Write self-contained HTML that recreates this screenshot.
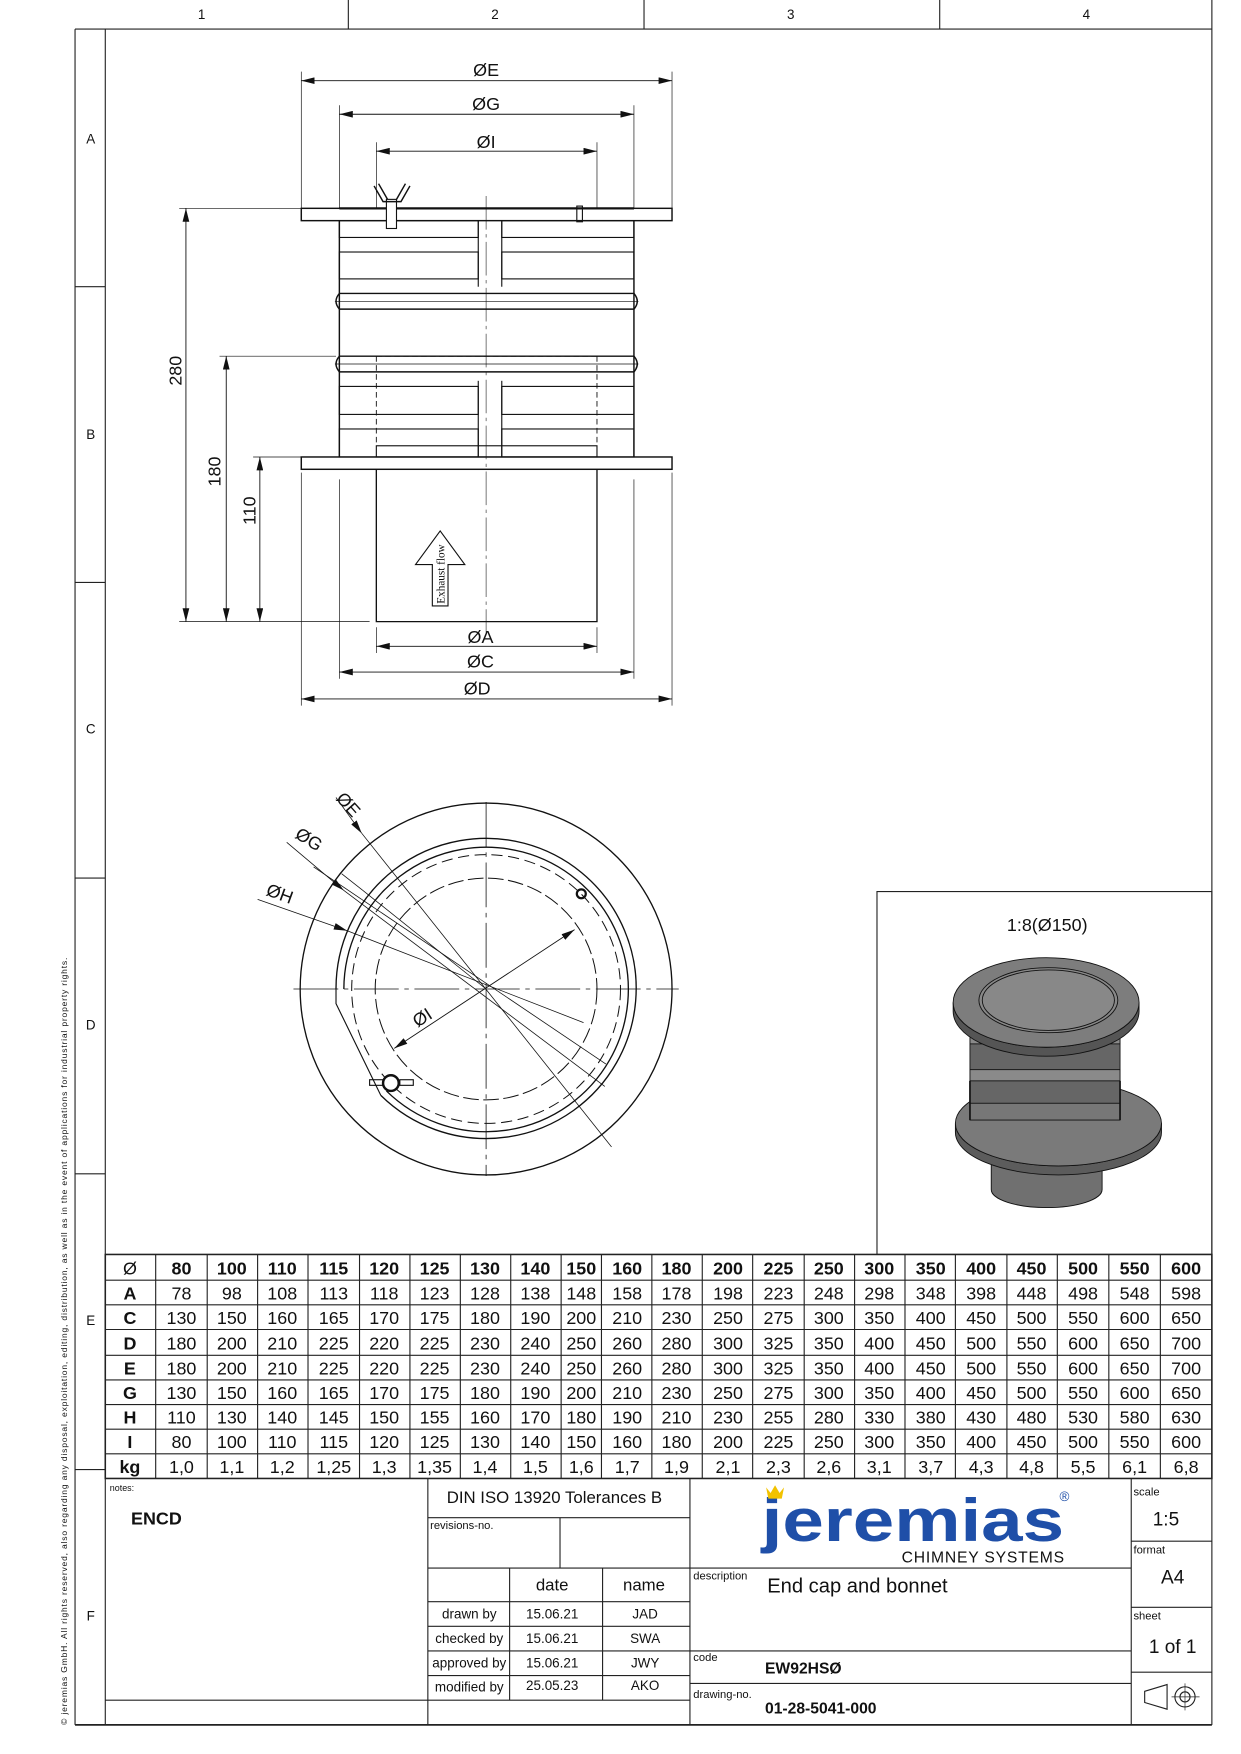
<!DOCTYPE html>
<html><head><meta charset="utf-8"><style>
html,body{margin:0;padding:0;background:#fff}
svg{display:block}
text{font-family:"Liberation Sans",sans-serif;fill:#111}
</style></head><body>
<svg width="1241" height="1754" viewBox="0 0 1108 1566" preserveAspectRatio="none" xmlns="http://www.w3.org/2000/svg">
<defs>
<marker id="ar" markerWidth="12" markerHeight="6" refX="12" refY="3" orient="auto" markerUnits="userSpaceOnUse"><path d="M0,0 L12,3 L0,6 z" fill="#111"/></marker>
<marker id="al" markerWidth="12" markerHeight="6" refX="0" refY="3" orient="auto" markerUnits="userSpaceOnUse"><path d="M12,0 L0,3 L12,6 z" fill="#111"/></marker>
</defs>
<g stroke="#222" fill="none" stroke-width="1">
<line x1="67" y1="26" x2="1082" y2="26"/>
<line x1="1082" y1="0" x2="1082" y2="1540"/>
<line x1="311" y1="0" x2="311" y2="26"/><line x1="575" y1="0" x2="575" y2="26"/><line x1="839" y1="0" x2="839" y2="26"/>
<line x1="67" y1="26" x2="67" y2="1540"/>
<line x1="94" y1="26" x2="94" y2="1540"/>
<line x1="67" y1="1540" x2="1082" y2="1540" stroke-width="1.5"/>
<line x1="67" y1="256" x2="94" y2="256"/><line x1="67" y1="520" x2="94" y2="520"/><line x1="67" y1="784" x2="94" y2="784"/><line x1="67" y1="1048" x2="94" y2="1048"/><line x1="67" y1="1312" x2="94" y2="1312"/>
</g>
<g font-size="12" text-anchor="middle">
<text x="180" y="17">1</text><text x="442" y="17">2</text><text x="706" y="17">3</text><text x="970" y="17">4</text>
<text x="81" y="128">A</text><text x="81" y="392">B</text><text x="81" y="655">C</text><text x="81" y="919">D</text><text x="81" y="1183">E</text><text x="81" y="1447">F</text>
</g>
<text transform="translate(60,1540) rotate(-90)" font-size="7.6" textLength="685">© jeremias GmbH. All rights reserved, also regarding any disposal, exploitation, editing, distribution, as well as in the event of applications for industrial property rights.</text>

<g stroke="#111" fill="none" stroke-width="1">
<line x1="269" y1="64" x2="269" y2="186" stroke-width="0.6"/><line x1="600" y1="64" x2="600" y2="186" stroke-width="0.6"/>
<line x1="303" y1="94" x2="303" y2="186" stroke-width="0.6"/><line x1="566" y1="94" x2="566" y2="186" stroke-width="0.6"/>
<line x1="336" y1="127" x2="336" y2="186" stroke-width="0.6"/><line x1="533" y1="127" x2="533" y2="186" stroke-width="0.6"/>
<line x1="269" y1="72" x2="600" y2="72" marker-start="url(#al)" marker-end="url(#ar)" stroke-width="0.8"/>
<line x1="303" y1="102" x2="566" y2="102" marker-start="url(#al)" marker-end="url(#ar)" stroke-width="0.8"/>
<line x1="336" y1="135" x2="533" y2="135" marker-start="url(#al)" marker-end="url(#ar)" stroke-width="0.8"/>
<rect x="269" y="186" width="331" height="11" stroke-width="1.3"/>
<line x1="303" y1="186" x2="566" y2="186" stroke-width="2"/>
<line x1="303" y1="197" x2="303" y2="408" stroke-width="1.3"/><line x1="566" y1="197" x2="566" y2="408" stroke-width="1.3"/>
<rect x="303" y="197" width="124" height="15"/><rect x="448" y="197" width="118" height="15"/>
<rect x="303" y="225" width="124" height="24"/><rect x="448" y="225" width="118" height="24"/>
<rect x="303" y="345" width="124" height="25"/><rect x="448" y="345" width="118" height="25"/>
<rect x="303" y="383" width="124" height="25"/><rect x="448" y="383" width="118" height="25"/>
<line x1="427" y1="197" x2="427" y2="256"/><line x1="448" y1="197" x2="448" y2="256"/>
<line x1="427" y1="340" x2="427" y2="408"/><line x1="448" y1="340" x2="448" y2="408"/>
<path d="M303,262 Q297,269 303,276 L566,276 Q572,269 566,262 Z" stroke-width="1.3"/>
<line x1="299" y1="269" x2="570" y2="269" stroke-width="0.6"/>
<path d="M303,318 Q297,325 303,332 L566,332 Q572,325 566,318 Z" stroke-width="1.3"/>
<line x1="299" y1="325" x2="570" y2="325" stroke-width="0.6"/>
<rect x="269" y="408" width="331" height="11" stroke-width="1.3"/>
<rect x="336" y="398" width="197" height="10"/>
<path d="M336,318 L533,318 M336,318 L336,398 M533,318 L533,398" stroke-dasharray="5,3" stroke-width="0.8"/>
<path d="M336,419 L336,555 L533,555 L533,419" stroke-width="1.2"/>
<line x1="434" y1="175" x2="434" y2="565" stroke-width="0.5" stroke-dasharray="30,4,3,4"/>
<rect x="345" y="178" width="9" height="26" fill="#fff"/>
<path d="M338,164 L346,178 M362,164 L354,178 M334,166 L342,180 L358,180 L366,166" stroke-width="1.3"/>
<rect x="515" y="184" width="5" height="14"/>
<line x1="269" y1="422" x2="269" y2="630" stroke-width="0.6"/><line x1="600" y1="422" x2="600" y2="630" stroke-width="0.6"/>
<line x1="303" y1="428" x2="303" y2="606" stroke-width="0.6"/><line x1="566" y1="428" x2="566" y2="606" stroke-width="0.6"/>
<line x1="336" y1="560" x2="336" y2="583" stroke-width="0.6"/><line x1="533" y1="560" x2="533" y2="583" stroke-width="0.6"/>
<line x1="336" y1="577" x2="533" y2="577" marker-start="url(#al)" marker-end="url(#ar)" stroke-width="0.8"/>
<line x1="303" y1="600" x2="566" y2="600" marker-start="url(#al)" marker-end="url(#ar)" stroke-width="0.8"/>
<line x1="269" y1="624" x2="600" y2="624" marker-start="url(#al)" marker-end="url(#ar)" stroke-width="0.8"/>
<line x1="160" y1="186" x2="300" y2="186" stroke-width="0.6"/>
<line x1="196" y1="318" x2="300" y2="318" stroke-width="0.6"/>
<line x1="226" y1="408" x2="269" y2="408" stroke-width="0.6"/>
<line x1="160" y1="555" x2="330" y2="555" stroke-width="0.6"/>
<line x1="166" y1="186" x2="166" y2="555" marker-start="url(#al)" marker-end="url(#ar)" stroke-width="0.8"/>
<line x1="202" y1="318" x2="202" y2="555" marker-start="url(#al)" marker-end="url(#ar)" stroke-width="0.8"/>
<line x1="232" y1="408" x2="232" y2="555" marker-start="url(#al)" marker-end="url(#ar)" stroke-width="0.8"/>
<path d="M386,541 L386,504 L371,504 L393,474 L415,504 L400,504 L400,541 Z" stroke-width="1"/>
</g>
<g font-size="16" text-anchor="middle">
<text x="434" y="68">ØE</text><text x="434" y="98">ØG</text><text x="434" y="132">ØI</text>
<text x="429" y="574">ØA</text><text x="429" y="596">ØC</text><text x="426" y="620">ØD</text>
<text transform="translate(162,331) rotate(-90)">280</text>
<text transform="translate(197,421) rotate(-90)">180</text>
<text transform="translate(228,456) rotate(-90)">110</text>
</g>
<text transform="translate(397,539) rotate(-90)" font-size="10" style="font-family:'Liberation Serif',serif">Exhaust flow</text>

<g stroke="#111" fill="none" stroke-width="1">
<circle cx="434" cy="883" r="166" stroke-width="1.2"/>
<path d="M300,883 A134,134 0 1 1 340,978" stroke-width="1.2"/>
<path d="M307,883 A127,127 0 1 1 345,974" stroke-width="1.2"/>
<path d="M300,883 L300,896 L340,978"/>
<circle cx="434" cy="883" r="120" stroke-dasharray="10,5" stroke-width="0.9"/>
<circle cx="434" cy="883" r="99" stroke-dasharray="14,4" stroke-width="0.9"/>
<line x1="262" y1="883" x2="606" y2="883" stroke-width="0.7" stroke-dasharray="40,5,4,5"/>
<line x1="434" y1="716" x2="434" y2="1050" stroke-width="0.7" stroke-dasharray="40,5,4,5"/>
<line x1="324" y1="795" x2="434" y2="883" stroke-width="0.7"/>
<line x1="324" y1="795" x2="305" y2="780" stroke-width="0.7"/>
<line x1="323" y1="744" x2="546" y2="1024" stroke-width="0.7"/>
<line x1="300" y1="712" x2="323" y2="744" stroke-width="0.7" marker-end="url(#ar)"/>
<line x1="323" y1="803" x2="541" y2="950" stroke-width="0.7"/>
<line x1="280" y1="774" x2="323" y2="803" stroke-width="0.7"/>
<line x1="230" y1="803" x2="310" y2="831" stroke-width="0.7" marker-end="url(#ar)"/>
<line x1="310" y1="831" x2="521" y2="913" stroke-width="0.7"/>
<line x1="256" y1="752" x2="307" y2="795" stroke-width="0.7" marker-end="url(#ar)"/>
<line x1="307" y1="795" x2="540" y2="970" stroke-width="0.7"/>
<line x1="352" y1="936" x2="513" y2="830" stroke-width="0.8" marker-start="url(#al)" marker-end="url(#ar)"/>
<circle cx="349" cy="967" r="7" stroke-width="2.2" fill="#fff"/>
<rect x="330" y="964" width="12" height="5"/><rect x="357" y="964" width="12" height="5"/>
<circle cx="519" cy="798" r="4" stroke-width="2"/>
</g>
<g font-size="16" text-anchor="middle">
<text transform="translate(307,722) rotate(48)">ØE</text>
<text transform="translate(273,754) rotate(32)">ØG</text>
<text transform="translate(248,803) rotate(20)">ØH</text>
<text transform="translate(380,913) rotate(-33)">ØI</text>
</g>

<rect x="783" y="796" width="299" height="324" fill="none" stroke="#222" stroke-width="1"/>
<text x="935" y="831" font-size="16" text-anchor="middle">1:8(Ø150)</text>
<g stroke="#111" stroke-width="0.8">
<path d="M885,1003 L885,1062 A49,16 0 0 0 984,1062 L984,1003 Z" fill="#707070"/>
<path d="M853,1003 A92,38 0 0 0 1037,1003 L1037,1011 A92,38 0 0 1 853,1011 Z" fill="#5c5c5c"/>
<ellipse cx="945" cy="1003" rx="92" ry="38" fill="#7a7a7a"/>
<rect x="866" y="905" width="134" height="95" fill="#666"/>
<rect x="866" y="920" width="134" height="12" fill="#8a8a8a"/>
<rect x="866" y="955" width="134" height="10" fill="#8a8a8a"/>
<rect x="866" y="985" width="134" height="15" fill="#777"/>
<path d="M866,965 L866,1000 M1000,965 L1000,1000" stroke-width="1.5"/>
<path d="M851,895 A83,40 0 0 0 1017,895 L1017,903 A83,40 0 0 1 851,903 Z" fill="#555"/>
<ellipse cx="934" cy="895" rx="83" ry="40" fill="#7d7d7d"/>
<ellipse cx="936" cy="893" rx="62" ry="29" fill="#888"/>
<ellipse cx="936" cy="893" rx="59" ry="27" fill="none"/>
</g>

<g stroke="#222" fill="none" stroke-width="1">
<rect x="94" y="1120" width="988" height="200" stroke-width="1.4"/>
<line x1="94" y1="1143" x2="1082" y2="1143"/><line x1="94" y1="1165" x2="1082" y2="1165"/><line x1="94" y1="1187" x2="1082" y2="1187"/><line x1="94" y1="1210" x2="1082" y2="1210"/><line x1="94" y1="1232" x2="1082" y2="1232"/><line x1="94" y1="1254" x2="1082" y2="1254"/><line x1="94" y1="1276" x2="1082" y2="1276"/><line x1="94" y1="1298" x2="1082" y2="1298"/>
<line x1="139" y1="1120" x2="139" y2="1320"/><line x1="185" y1="1120" x2="185" y2="1320"/><line x1="230" y1="1120" x2="230" y2="1320"/><line x1="275" y1="1120" x2="275" y2="1320"/><line x1="321" y1="1120" x2="321" y2="1320"/><line x1="366" y1="1120" x2="366" y2="1320"/><line x1="411" y1="1120" x2="411" y2="1320"/><line x1="456" y1="1120" x2="456" y2="1320"/><line x1="501" y1="1120" x2="501" y2="1320"/><line x1="537" y1="1120" x2="537" y2="1320"/><line x1="582" y1="1120" x2="582" y2="1320"/><line x1="627" y1="1120" x2="627" y2="1320"/><line x1="672" y1="1120" x2="672" y2="1320"/><line x1="718" y1="1120" x2="718" y2="1320"/><line x1="763" y1="1120" x2="763" y2="1320"/><line x1="808" y1="1120" x2="808" y2="1320"/><line x1="853" y1="1120" x2="853" y2="1320"/><line x1="899" y1="1120" x2="899" y2="1320"/><line x1="944" y1="1120" x2="944" y2="1320"/><line x1="990" y1="1120" x2="990" y2="1320"/><line x1="1036" y1="1120" x2="1036" y2="1320"/>
</g>
<g font-size="16" text-anchor="middle">
<g font-weight="bold"><text x="116" y="1138" font-weight="normal">Ø</text><text x="162" y="1138">80</text><text x="207" y="1138">100</text><text x="252" y="1138">110</text><text x="298" y="1138">115</text><text x="343" y="1138">120</text><text x="388" y="1138">125</text><text x="433" y="1138">130</text><text x="478" y="1138">140</text><text x="519" y="1138">150</text><text x="560" y="1138">160</text><text x="604" y="1138">180</text><text x="650" y="1138">200</text><text x="695" y="1138">225</text><text x="740" y="1138">250</text><text x="785" y="1138">300</text><text x="831" y="1138">350</text><text x="876" y="1138">400</text><text x="921" y="1138">450</text><text x="967" y="1138">500</text><text x="1013" y="1138">550</text><text x="1059" y="1138">600</text>
<text x="116" y="1160">A</text><text x="116" y="1182">C</text><text x="116" y="1205">D</text><text x="116" y="1227">E</text><text x="116" y="1249">G</text><text x="116" y="1271">H</text><text x="116" y="1293">I</text><text x="116" y="1315">kg</text></g>
<g><text x="162" y="1160">78</text><text x="207" y="1160">98</text><text x="252" y="1160">108</text><text x="298" y="1160">113</text><text x="343" y="1160">118</text><text x="388" y="1160">123</text><text x="433" y="1160">128</text><text x="478" y="1160">138</text><text x="519" y="1160">148</text><text x="560" y="1160">158</text><text x="604" y="1160">178</text><text x="650" y="1160">198</text><text x="695" y="1160">223</text><text x="740" y="1160">248</text><text x="785" y="1160">298</text><text x="831" y="1160">348</text><text x="876" y="1160">398</text><text x="921" y="1160">448</text><text x="967" y="1160">498</text><text x="1013" y="1160">548</text><text x="1059" y="1160">598</text></g>
<g><text x="162" y="1182">130</text><text x="207" y="1182">150</text><text x="252" y="1182">160</text><text x="298" y="1182">165</text><text x="343" y="1182">170</text><text x="388" y="1182">175</text><text x="433" y="1182">180</text><text x="478" y="1182">190</text><text x="519" y="1182">200</text><text x="560" y="1182">210</text><text x="604" y="1182">230</text><text x="650" y="1182">250</text><text x="695" y="1182">275</text><text x="740" y="1182">300</text><text x="785" y="1182">350</text><text x="831" y="1182">400</text><text x="876" y="1182">450</text><text x="921" y="1182">500</text><text x="967" y="1182">550</text><text x="1013" y="1182">600</text><text x="1059" y="1182">650</text></g>
<g><text x="162" y="1205">180</text><text x="207" y="1205">200</text><text x="252" y="1205">210</text><text x="298" y="1205">225</text><text x="343" y="1205">220</text><text x="388" y="1205">225</text><text x="433" y="1205">230</text><text x="478" y="1205">240</text><text x="519" y="1205">250</text><text x="560" y="1205">260</text><text x="604" y="1205">280</text><text x="650" y="1205">300</text><text x="695" y="1205">325</text><text x="740" y="1205">350</text><text x="785" y="1205">400</text><text x="831" y="1205">450</text><text x="876" y="1205">500</text><text x="921" y="1205">550</text><text x="967" y="1205">600</text><text x="1013" y="1205">650</text><text x="1059" y="1205">700</text></g>
<g><text x="162" y="1227">180</text><text x="207" y="1227">200</text><text x="252" y="1227">210</text><text x="298" y="1227">225</text><text x="343" y="1227">220</text><text x="388" y="1227">225</text><text x="433" y="1227">230</text><text x="478" y="1227">240</text><text x="519" y="1227">250</text><text x="560" y="1227">260</text><text x="604" y="1227">280</text><text x="650" y="1227">300</text><text x="695" y="1227">325</text><text x="740" y="1227">350</text><text x="785" y="1227">400</text><text x="831" y="1227">450</text><text x="876" y="1227">500</text><text x="921" y="1227">550</text><text x="967" y="1227">600</text><text x="1013" y="1227">650</text><text x="1059" y="1227">700</text></g>
<g><text x="162" y="1249">130</text><text x="207" y="1249">150</text><text x="252" y="1249">160</text><text x="298" y="1249">165</text><text x="343" y="1249">170</text><text x="388" y="1249">175</text><text x="433" y="1249">180</text><text x="478" y="1249">190</text><text x="519" y="1249">200</text><text x="560" y="1249">210</text><text x="604" y="1249">230</text><text x="650" y="1249">250</text><text x="695" y="1249">275</text><text x="740" y="1249">300</text><text x="785" y="1249">350</text><text x="831" y="1249">400</text><text x="876" y="1249">450</text><text x="921" y="1249">500</text><text x="967" y="1249">550</text><text x="1013" y="1249">600</text><text x="1059" y="1249">650</text></g>
<g><text x="162" y="1271">110</text><text x="207" y="1271">130</text><text x="252" y="1271">140</text><text x="298" y="1271">145</text><text x="343" y="1271">150</text><text x="388" y="1271">155</text><text x="433" y="1271">160</text><text x="478" y="1271">170</text><text x="519" y="1271">180</text><text x="560" y="1271">190</text><text x="604" y="1271">210</text><text x="650" y="1271">230</text><text x="695" y="1271">255</text><text x="740" y="1271">280</text><text x="785" y="1271">330</text><text x="831" y="1271">380</text><text x="876" y="1271">430</text><text x="921" y="1271">480</text><text x="967" y="1271">530</text><text x="1013" y="1271">580</text><text x="1059" y="1271">630</text></g>
<g><text x="162" y="1293">80</text><text x="207" y="1293">100</text><text x="252" y="1293">110</text><text x="298" y="1293">115</text><text x="343" y="1293">120</text><text x="388" y="1293">125</text><text x="433" y="1293">130</text><text x="478" y="1293">140</text><text x="519" y="1293">150</text><text x="560" y="1293">160</text><text x="604" y="1293">180</text><text x="650" y="1293">200</text><text x="695" y="1293">225</text><text x="740" y="1293">250</text><text x="785" y="1293">300</text><text x="831" y="1293">350</text><text x="876" y="1293">400</text><text x="921" y="1293">450</text><text x="967" y="1293">500</text><text x="1013" y="1293">550</text><text x="1059" y="1293">600</text></g>
<g><text x="162" y="1315">1,0</text><text x="207" y="1315">1,1</text><text x="252" y="1315">1,2</text><text x="298" y="1315">1,25</text><text x="343" y="1315">1,3</text><text x="388" y="1315">1,35</text><text x="433" y="1315">1,4</text><text x="478" y="1315">1,5</text><text x="519" y="1315">1,6</text><text x="560" y="1315">1,7</text><text x="604" y="1315">1,9</text><text x="650" y="1315">2,1</text><text x="695" y="1315">2,3</text><text x="740" y="1315">2,6</text><text x="785" y="1315">3,1</text><text x="831" y="1315">3,7</text><text x="876" y="1315">4,3</text><text x="921" y="1315">4,8</text><text x="967" y="1315">5,5</text><text x="1013" y="1315">6,1</text><text x="1059" y="1315">6,8</text></g>
</g>

<g stroke="#222" fill="none" stroke-width="1">
<line x1="382" y1="1320" x2="382" y2="1540"/>
<line x1="616" y1="1320" x2="616" y2="1540"/>
<line x1="1010" y1="1320" x2="1010" y2="1540"/>
<line x1="94" y1="1518" x2="616" y2="1518"/>
<line x1="382" y1="1355" x2="616" y2="1355"/>
<line x1="500" y1="1355" x2="500" y2="1400"/>
<line x1="382" y1="1400" x2="1010" y2="1400"/>
<line x1="455" y1="1400" x2="455" y2="1518"/><line x1="538" y1="1400" x2="538" y2="1518"/>
<line x1="382" y1="1430" x2="616" y2="1430"/><line x1="382" y1="1452" x2="616" y2="1452"/><line x1="382" y1="1474" x2="616" y2="1474"/><line x1="382" y1="1496" x2="616" y2="1496"/>
<line x1="616" y1="1474" x2="1010" y2="1474"/><line x1="616" y1="1503" x2="1010" y2="1503"/>
<line x1="1010" y1="1376" x2="1082" y2="1376"/><line x1="1010" y1="1435" x2="1082" y2="1435"/><line x1="1010" y1="1493" x2="1082" y2="1493"/>
<path d="M1022,1510 L1042,1504 L1042,1526 L1022,1520 Z"/>
<circle cx="1058" cy="1515" r="9"/><circle cx="1058" cy="1515" r="4.5"/>
<line x1="1046" y1="1515" x2="1071" y2="1515" stroke-width="0.6"/><line x1="1058" y1="1503" x2="1058" y2="1527" stroke-width="0.6"/>
</g>
<g font-size="10">
<text x="98" y="1331" font-size="8">notes:</text>
<text x="384" y="1365">revisions-no.</text>
<text x="619" y="1410">description</text>
<text x="619" y="1483">code</text>
<text x="619" y="1516">drawing-no.</text>
<text x="1012" y="1335">scale</text>
<text x="1012" y="1387">format</text>
<text x="1012" y="1446">sheet</text>
</g>
<text x="117" y="1361" font-size="16" font-weight="bold">ENCD</text>
<text x="495" y="1342" font-size="15" text-anchor="middle">DIN ISO 13920 Tolerances B</text>
<g font-size="15" text-anchor="middle"><text x="493" y="1420">date</text><text x="575" y="1420">name</text></g>
<g font-size="12" text-anchor="middle">
<text x="419" y="1445">drawn by</text><text x="493" y="1445">15.06.21</text><text x="576" y="1445">JAD</text>
<text x="419" y="1467">checked by</text><text x="493" y="1467">15.06.21</text><text x="576" y="1467">SWA</text>
<text x="419" y="1489">approved by</text><text x="493" y="1489">15.06.21</text><text x="576" y="1489">JWY</text>
<text x="419" y="1510">modified by</text><text x="493" y="1509">25.05.23</text><text x="576" y="1509">AKO</text>
</g>
<text x="685" y="1422" font-size="18">End cap and bonnet</text>
<text x="683" y="1494" font-size="14" font-weight="bold">EW92HSØ</text>
<text x="683" y="1530" font-size="14" font-weight="bold">01-28-5041-000</text>
<g font-size="17" text-anchor="middle"><text x="1041" y="1362">1:5</text><text x="1047" y="1414">A4</text><text x="1047" y="1476">1 of 1</text></g>
<text x="680" y="1376" font-size="54" font-weight="bold" style="fill:#1f4fa8" textLength="270" lengthAdjust="spacingAndGlyphs">jeremias</text>
<text x="946" y="1340" font-size="12" style="fill:#1f4fa8">®</text>
<path d="M684,1328 L686,1338 L698,1338 L700,1328 L696,1333 L692,1326 L688,1333 Z" fill="#f2c200"/>
<text x="805" y="1395" font-size="14" textLength="145">CHIMNEY SYSTEMS</text>
</svg>
</body></html>
